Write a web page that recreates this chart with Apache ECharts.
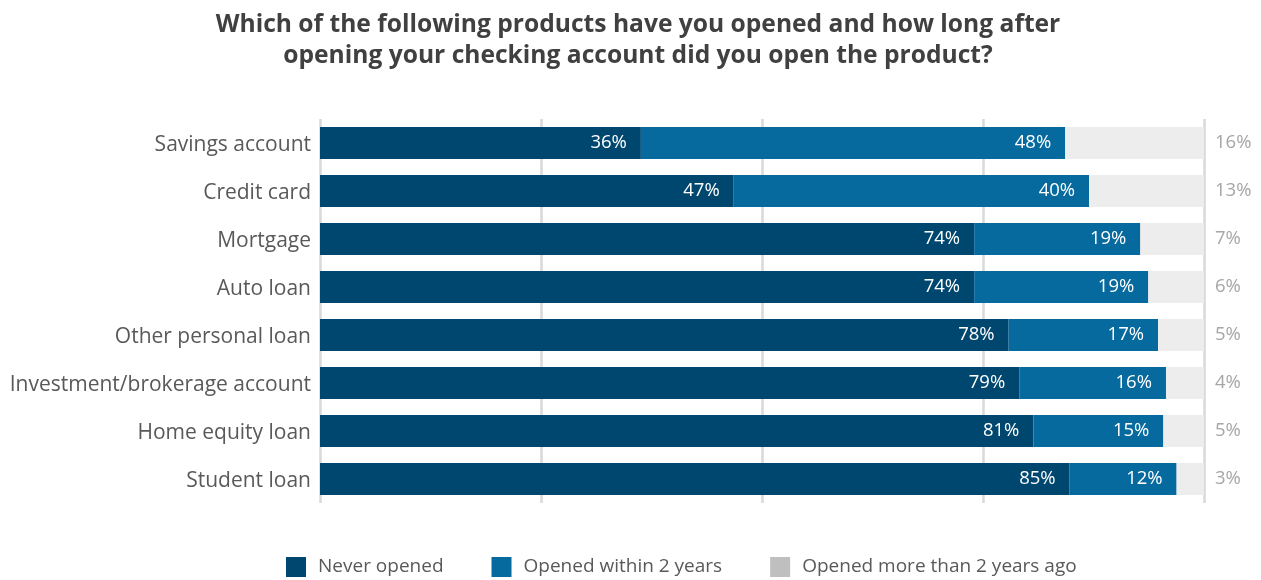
<!DOCTYPE html>
<html>
<head>
<meta charset="utf-8">
<script src="https://cdn.jsdelivr.net/npm/echarts@6/dist/echarts.min.js"></script>
<style>
  html, body { margin: 0; padding: 0; background: #fff; }
  #chart { width: 1261px; height: 580px; }
</style>
</head>
<body>
<div id="chart"></div>
<script>
const categories = ['Savings account', 'Credit card', 'Mortgage', 'Auto loan', 'Other personal loan', 'Investment/brokerage account', 'Home equity loan', 'Student loan']
// bar lengths as drawn (unrounded shares)
const neverOpened = [36.3, 46.8, 74.0, 74.0, 77.9, 79.1, 80.7, 84.8]
const within2Years = [48.0, 40.2, 18.8, 19.7, 16.9, 16.6, 14.7, 12.1]
const moreThan2Years = [15.7, 13.0, 7.2, 6.3, 5.2, 4.3, 4.6, 3.1]
// percentages printed on the bars
const neverLabels = [36, 47, 74, 74, 78, 79, 81, 85]
const withinLabels = [48, 40, 19, 19, 17, 16, 15, 12]
const moreLabels = [16, 13, 7, 6, 5, 4, 5, 3]
const seriesNames = ['Never opened', 'Opened within 2 years', 'Opened more than 2 years ago']

const chart = echarts.init(document.getElementById('chart'))

const inLabel = {
  show: true,
  position: 'insideRight',
  distance: 14,
  color: '#ffffff',
  fontSize: 18.5,
  fontFamily: 'Open Sans'
}

chart.setOption({
  title: {
    text: 'Which of the following products have you opened and how long after\nopening your checking account did you open the product?',
    left: 633,
    top: 4,
    textAlign: 'center',
    textStyle: { fontSize: 24.6, fontWeight: 'bold', color: '#404040', fontFamily: 'Open Sans', lineHeight: 31 }
  },
  legend: {
    top: 557,
    left: 286,
    padding: 0,
    icon: 'rect',
    itemWidth: 20,
    itemHeight: 20,
    itemGap: 48,
    textStyle: { fontSize: 19, color: '#595959', fontFamily: 'Open Sans', padding: [0, 0, 0, 7] },
    data: [
      { name: seriesNames[0] },
      { name: seriesNames[1] },
      { name: seriesNames[2], itemStyle: { color: '#bfbfbf' } }
    ]
  },
  grid: { left: 320, right: 57, top: 119, height: 384 },
  xAxis: {
    type: 'value',
    min: 0,
    max: 100,
    interval: 25,
    axisLabel: { show: false },
    axisLine: { show: false },
    axisTick: { show: false },
    splitLine: { show: true, lineStyle: { color: '#d9d9d9', width: 2.5 } }
  },
  yAxis: {
    type: 'category',
    inverse: true,
    data: categories,
    axisLine: { show: false },
    axisTick: { show: false },
    axisLabel: { fontSize: 21, color: '#595959', fontFamily: 'Open Sans', margin: 9, lineHeight: 26, verticalAlign: 'top', padding: [-11, 0, 0, 0] }
  },
  series: [
    { name: seriesNames[0], type: 'bar', stack: 'total', barWidth: 32, data: neverOpened,
      itemStyle: { color: '#00476f' },
      label: { ...inLabel, formatter: p => neverLabels[p.dataIndex] + '%' } },
    { name: seriesNames[1], type: 'bar', stack: 'total', barWidth: 32, data: within2Years,
      itemStyle: { color: '#066a9f' },
      label: { ...inLabel, formatter: p => withinLabels[p.dataIndex] + '%' } },
    { name: seriesNames[2], type: 'bar', stack: 'total', barWidth: 32, data: moreThan2Years,
      itemStyle: { color: '#ededed' },
      label: { ...inLabel, position: 'right', distance: 11, color: '#a6a6a6',
        formatter: p => moreLabels[p.dataIndex] + '%' } }
  ]
})
</script>
</body>
</html>
